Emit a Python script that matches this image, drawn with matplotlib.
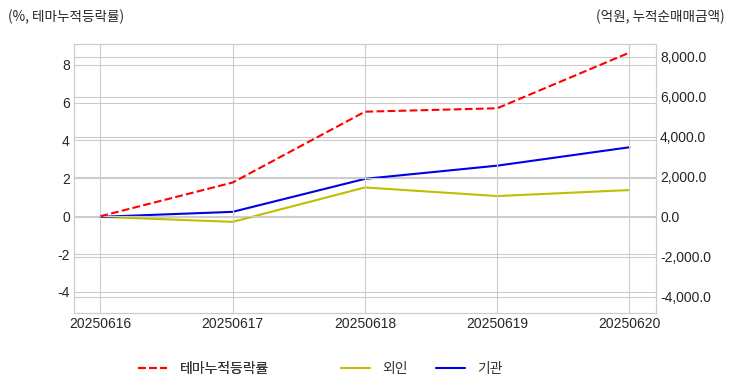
import numpy as np
import matplotlib
matplotlib.use('Agg')
import matplotlib.pyplot as plt
import matplotlib.ticker as mticker
import seaborn as sns

dates = ['20250616', '20250617', '20250618', '20250619', '20250620']
theme_ret = [0.0, 1.78, 5.52, 5.70, 8.64]
foreign = [0.0, -250.0, 1470.0, 1040.0, 1340.0]
institution = [0.0, 250.0, 1900.0, 2560.0, 3480.0]

sns.set_style('whitegrid')
plt.rcParams['font.family'] = ['Liberation Sans', 'Noto Sans CJK KR']
plt.rcParams['axes.unicode_minus'] = False

fig = plt.figure(figsize=(7.32, 3.92), dpi=100)
ax = fig.add_axes([0.101, 0.202, 0.795, 0.686])
x = np.arange(len(dates))

l1, = ax.plot(x, theme_ret, color='red', linestyle='--', linewidth=1.5, label='테마누적등락률')
ax.set_xlim(-0.2, len(dates) - 0.8)
ax.set_ylim(-5.1, 9.1)
ax.set_yticks([-4, -2, 0, 2, 4, 6, 8])
ax.set_xticks(x)
ax.set_xticklabels(dates)
ax.tick_params(labelsize=10, colors='#262626', length=0, pad=3)

ax2 = ax.twinx()
l2, = ax2.plot(x, foreign, color='#bfbf00', linewidth=1.5, label='외인')
l3, = ax2.plot(x, institution, color='#0000e6', linewidth=1.5, label='기관')
ax2.set_ylim(-4800, 8650)
ax2.set_yticks([-4000, -2000, 0, 2000, 4000, 6000, 8000])
ax2.yaxis.set_major_formatter(mticker.FuncFormatter(lambda v, p: f'{v:,.1f}'))
ax2.tick_params(labelsize=10, colors='#262626', length=0, pad=3)
ax2.grid(True, color='#cccccc')
ax.set_zorder(ax2.get_zorder() + 1)
ax.patch.set_visible(False)

for a in (ax, ax2):
    for s in a.spines.values():
        s.set_color('#cccccc')

fig.text(0.011, 0.958, '(%, 테마누적등락률)', fontsize=9.8, color='#262626',
         family=['Noto Sans CJK KR'], va='center')
fig.text(0.99, 0.958, '(억원, 누적순매매금액)', fontsize=9.8, color='#262626',
         family=['Noto Sans CJK KR'], va='center', ha='right')

leg_prop = {'family': ['Noto Sans CJK KR'], 'size': 10}
leg1 = fig.legend(handles=[l1], loc='center left', bbox_to_anchor=(138 / 732, 0.059),
                  frameon=False, borderpad=0, borderaxespad=0, handlelength=2.1,
                  handletextpad=0.9, prop=leg_prop, labelcolor='#333333')
fig.add_artist(leg1)
fig.legend(handles=[l2, l3], loc='center left', bbox_to_anchor=(341 / 732, 0.059), ncol=2,
           frameon=False, borderpad=0, borderaxespad=0, handlelength=2.1,
           handletextpad=0.9, columnspacing=2.0, prop=leg_prop, labelcolor='#333333')

fig.savefig('out.png', dpi=100)
